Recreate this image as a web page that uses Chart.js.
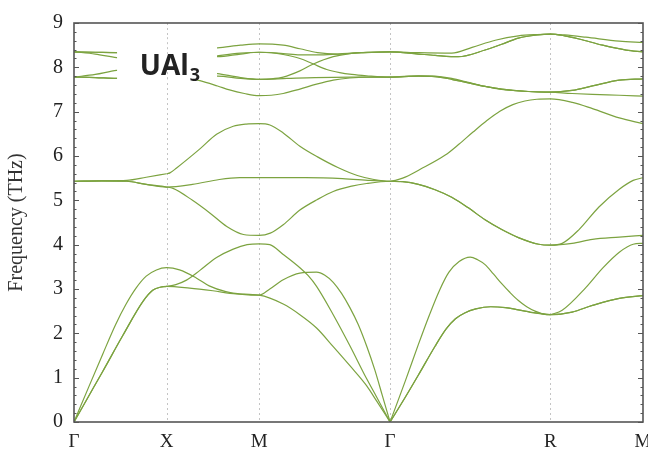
<!doctype html>
<html>
<head>
<meta charset="utf-8">
<title>UAl3 phonon dispersion</title>
<script src="https://cdn.jsdelivr.net/npm/chart.js@4.4.1/dist/chart.umd.min.js"></script>
<style>
  html, body { margin: 0; padding: 0; background: #fff; }
  canvas { display: block; }
</style>
</head>
<body>
<canvas id="bands" width="648" height="455"></canvas>
<script>
// path along the zone: Γ-X-M-Γ-R-M, distances in units of Γ-X
var kTicks = [0, 1, 2, 3.414, 5.146, 6.146];
var kLabels = ['Γ', 'X', 'M', 'Γ', 'R', 'M'];
var freqTicks = [0, 1, 2, 3, 4, 5, 6, 7, 8, 9];

// each band: [k, frequency in THz]
var band01 = [[0,0],[0.155,0.57],[0.31,1.14],[0.527,1.95],[0.745,2.72],[0.85,2.97],[0.93,3.04],[1,3.06],
  [1.25,3.02],[1.5,2.96],[1.75,2.89],[2,2.86],
  [2.26,2.66],[2.44,2.42],[2.62,2.12],[2.8,1.7],[2.98,1.27],[3.16,0.82],[3.27,0.47],[3.414,0],
  [3.57,0.53],[3.72,1.06],[3.9,1.71],[4.02,2.1],[4.12,2.33],[4.22,2.46],[4.34,2.55],[4.5,2.6],[4.66,2.58],[4.8,2.53],[4.98,2.46],[5.146,2.42],
  [5.38,2.48],[5.6,2.63],[5.89,2.79],[6.146,2.85]];
var band02 = [[0,0],[0.155,0.57],[0.31,1.14],[0.527,1.95],[0.745,2.72],[0.85,2.97],[0.93,3.04],[1,3.06],
  [1.1,3.1],[1.215,3.2],[1.36,3.42],[1.54,3.71],[1.72,3.9],[1.87,4.0],[2,4.02],
  [2.115,4.0],[2.26,3.78],[2.44,3.48],[2.53,3.3],[2.62,3.06],[2.8,2.42],[2.98,1.72],[3.16,0.98],[3.27,0.56],[3.414,0],
  [3.57,0.53],[3.72,1.06],[3.9,1.71],[4.02,2.1],[4.12,2.33],[4.22,2.46],[4.34,2.55],[4.5,2.6],[4.66,2.58],[4.8,2.53],[4.98,2.46],[5.146,2.42],
  [5.273,2.52],[5.528,3.03],[5.71,3.47],[5.89,3.83],[6.04,4.01],[6.146,4.03]];
var band03 = [[0,0],[0.155,0.77],[0.31,1.53],[0.45,2.2],[0.56,2.65],[0.67,3.02],[0.78,3.29],[0.89,3.43],[1,3.48],
  [1.14,3.43],[1.32,3.25],[1.46,3.07],[1.64,2.94],[1.82,2.88],[2,2.86],
  [2.115,3.0],[2.26,3.21],[2.44,3.36],[2.62,3.38],[2.71,3.31],[2.8,3.15],[2.89,2.9],[2.98,2.58],[3.07,2.2],[3.16,1.72],[3.25,1.17],[3.33,0.6],[3.414,0],
  [3.576,0.91],[3.72,1.75],[3.84,2.42],[3.95,2.98],[4.05,3.38],[4.16,3.62],[4.28,3.72],[4.36,3.66],[4.44,3.55],[4.53,3.34],[4.62,3.12],[4.71,2.92],[4.8,2.74],[4.89,2.6],[4.98,2.5],[5.06,2.44],[5.146,2.42],
  [5.38,2.48],[5.6,2.63],[5.89,2.79],[6.146,2.85]];
var band04 = [[0,5.43],[0.3,5.44],[0.57,5.45],[0.78,5.52],[1,5.6],
  [1.036,5.62],[1.108,5.73],[1.36,6.16],[1.54,6.49],[1.72,6.67],[1.86,6.72],[2,6.73],
  [2.116,6.7],[2.26,6.52],[2.44,6.22],[2.63,5.98],[2.85,5.74],[3.06,5.56],[3.24,5.47],[3.414,5.43],
  [3.55,5.5],[3.74,5.7],[4.01,6.02],[4.16,6.27],[4.31,6.54],[4.46,6.8],[4.6,7.01],[4.74,7.16],[4.87,7.24],[5.0,7.28],[5.146,7.29],
  [5.383,7.21],[5.6,7.07],[5.89,6.86],[6.146,6.73]];
var band05 = [[0,5.43],[0.3,5.44],[0.57,5.43],[0.78,5.36],[1,5.3],
  [1.28,5.36],[1.57,5.47],[1.79,5.51],[2,5.51],
  [2.5,5.51],[2.9,5.49],[3.2,5.45],[3.414,5.43],
  [3.55,5.42],[3.72,5.36],[3.9,5.24],[4.08,5.07],[4.26,4.83],[4.44,4.56],[4.62,4.34],[4.8,4.16],[5.02,4.01],[5.146,3.99],
  [5.273,4.03],[5.455,4.34],[5.67,4.85],[5.89,5.25],[6.04,5.45],[6.146,5.51]];
var band06 = [[0,5.43],[0.3,5.44],[0.57,5.43],[0.78,5.36],[1,5.3],
  [1.07,5.27],[1.28,5.0],[1.47,4.71],[1.65,4.41],[1.83,4.23],[2,4.21],
  [2.12,4.26],[2.26,4.45],[2.44,4.78],[2.63,5.02],[2.8,5.2],[3.0,5.32],[3.16,5.38],[3.414,5.43],
  [3.55,5.42],[3.72,5.36],[3.9,5.24],[4.08,5.07],[4.26,4.83],[4.44,4.56],[4.62,4.34],[4.8,4.16],[5.02,4.01],[5.146,3.99],
  [5.38,4.03],[5.6,4.12],[5.89,4.17],[6.146,4.21]];
var band07 = [[0,8.35],[0.23,8.34],[0.46,8.33],[1,8.4],
  [1.55,8.44],[1.8,8.5],[2,8.53],
  [2.26,8.5],[2.44,8.42],[2.63,8.33],[2.85,8.3],[3.1,8.33],[3.414,8.35],
  [3.72,8.33],[4.08,8.32],[4.3,8.45],[4.55,8.61],[4.8,8.71],[5.0,8.74],[5.146,8.75],
  [5.3,8.73],[5.528,8.68],[5.89,8.59],[6.146,8.56]];
var band08 = [[0,8.35],[0.23,8.34],[0.46,8.33],[1,8.3],
  [1.55,8.24],[1.8,8.3],[2,8.34],
  [2.26,8.31],[2.44,8.28],[2.63,8.28],[2.85,8.3],[3.1,8.33],[3.414,8.35],
  [3.72,8.3],[3.9,8.27],[4.15,8.24],[4.44,8.39],[4.62,8.52],[4.8,8.66],[5.0,8.73],[5.146,8.75],
  [5.3,8.71],[5.455,8.64],[5.71,8.5],[5.964,8.39],[6.146,8.35]];
var band09 = [[0,8.35],[0.23,8.3],[0.46,8.22],[1,8.1],
  [1.55,8.26],[1.8,8.32],[2,8.34],
  [2.13,8.33],[2.26,8.29],[2.44,8.2],[2.58,8.08],[2.73,7.95],[2.87,7.88],[3.0,7.84],[3.16,7.81],[3.414,7.78],
  [3.72,7.8],[3.9,7.79],[4.08,7.73],[4.26,7.65],[4.44,7.57],[4.62,7.51],[4.87,7.46],[5.146,7.44],
  [5.38,7.48],[5.6,7.58],[5.89,7.71],[6.146,7.74]];
var band10 = [[0,7.78],[0.23,7.84],[0.46,7.93],[1,8.0],
  [1.55,7.86],[1.8,7.77],[2,7.73],
  [2.13,7.74],[2.26,7.78],[2.44,7.92],[2.58,8.07],[2.8,8.24],[2.98,8.31],[3.2,8.34],[3.414,8.35],
  [3.72,8.3],[3.9,8.27],[4.15,8.24],[4.44,8.39],[4.62,8.52],[4.8,8.66],[5.0,8.73],[5.146,8.75],
  [5.3,8.71],[5.455,8.64],[5.71,8.5],[5.964,8.39],[6.146,8.35]];
var band11 = [[0,7.78],[0.23,7.77],[0.46,7.75],[1,7.8],
  [1.55,7.8],[1.8,7.75],[2,7.73],
  [2.3,7.75],[2.6,7.77],[3.0,7.78],[3.414,7.78],
  [3.72,7.81],[3.9,7.8],[4.08,7.75],[4.26,7.66],[4.44,7.57],[4.62,7.5],[4.87,7.46],[5.146,7.44],
  [5.38,7.48],[5.6,7.58],[5.89,7.71],[6.146,7.74]];
var band12 = [[0,7.78],[0.23,7.77],[0.46,7.75],[1,7.85],
  [1.36,7.7],[1.55,7.58],[1.68,7.49],[1.84,7.41],[2,7.36],
  [2.13,7.37],[2.26,7.41],[2.44,7.51],[2.62,7.62],[2.8,7.71],[2.98,7.76],[3.16,7.78],[3.414,7.78],
  [3.72,7.8],[3.9,7.79],[4.08,7.73],[4.26,7.65],[4.44,7.57],[4.62,7.51],[4.87,7.46],[5.146,7.44],
  [5.38,7.41],[5.6,7.39],[5.89,7.37],[6.146,7.35]];

var bands = [band01, band02, band03, band04, band05, band06,
             band07, band08, band09, band10, band11, band12];
// zone points where a band has a sharp corner (curve is split there)
var corners = [[3.414], [3.414, 5.146], [3.414], [1], [], [], [], [], [], [], [], []];

var lineColor = 'rgb(124,163,64)';
var serif = "'Liberation Serif', 'DejaVu Serif', serif";

var datasets = [];
bands.forEach(function(band, b) {
  var cuts = [kTicks[0]].concat(corners[b], [kTicks[kTicks.length - 1]]);
  for (var s = 0; s < cuts.length - 1; s++) {
    var pts = band.filter(function(p) {
      return p[0] >= cuts[s] - 1e-6 && p[0] <= cuts[s + 1] + 1e-6;
    }).map(function(p) { return {x: p[0], y: p[1]}; });
    datasets.push({
      data: pts,
      borderColor: lineColor,
      borderWidth: 1.2,
      pointRadius: 0,
      fill: false,
      cubicInterpolationMode: 'monotone'
    });
  }
});

var framePlugin = {
  id: 'frame',
  beforeDatasetsDraw: function(chart) {
    var c = chart.ctx, a = chart.chartArea, xs = chart.scales.x;
    c.save();
    c.strokeStyle = '#c4c4c4';
    c.lineWidth = 1;
    c.setLineDash([2, 3]);
    for (var i = 1; i < kTicks.length - 1; i++) {
      var px = Math.round(xs.getPixelForValue(kTicks[i])) + 0.5;
      c.beginPath(); c.moveTo(px, a.top); c.lineTo(px, a.bottom); c.stroke();
    }
    c.restore();
  },
  afterDatasetsDraw: function(chart) {
    var c = chart.ctx, a = chart.chartArea, xs = chart.scales.x, ys = chart.scales.y;
    c.save();

    // white patch behind the compound label
    var bx0 = xs.getPixelForValue(0.465), bx1 = xs.getPixelForValue(1.545);
    var by0 = ys.getPixelForValue(8.68), by1 = ys.getPixelForValue(7.72);
    c.fillStyle = '#fff';
    c.fillRect(bx0, by0, bx1 - bx0, by1 - by0);
    var gx = Math.round(xs.getPixelForValue(kTicks[1])) + 0.5;
    c.strokeStyle = '#c4c4c4'; c.lineWidth = 1; c.setLineDash([2, 3]);
    c.beginPath(); c.moveTo(gx, by0); c.lineTo(gx, by1); c.stroke();
    c.setLineDash([]);

    var tx = xs.getPixelForValue(0.71), ty = ys.getPixelForValue(7.82);
    c.fillStyle = '#222';
    c.textBaseline = 'alphabetic';
    c.textAlign = 'left';
    c.font = "bold 28px 'Open Sans', sans-serif";
    c.fillText('UAl', tx, ty);
    var w = c.measureText('UAl').width;
    c.font = "bold 18px 'Open Sans', sans-serif";
    c.fillText('3', tx + w + 1, ty + 6);

    // axis box with tick marks on both sides
    c.strokeStyle = '#555';
    c.lineWidth = 1.6;
    c.strokeRect(a.left, a.top, a.right - a.left, a.bottom - a.top);
    c.lineWidth = 1;
    for (var v = 0; v <= 9.001; v += 0.2) {
      var py = Math.round(ys.getPixelForValue(v)) + 0.5;
      var major = Math.abs(v - Math.round(v)) < 1e-6;
      var len = major ? 5 : 2.5;
      c.beginPath();
      c.moveTo(a.left, py); c.lineTo(a.left + len, py);
      c.moveTo(a.right, py); c.lineTo(a.right - len, py);
      c.stroke();
    }
    c.restore();
  }
};

new Chart(document.getElementById('bands'), {
  type: 'line',
  data: { datasets: datasets },
  options: {
    responsive: false,
    animation: false,
    events: [],
    layout: { padding: { top: 10, right: 5, left: 0, bottom: 0 } },
    plugins: { legend: { display: false }, tooltip: { enabled: false } },
    scales: {
      x: {
        type: 'linear',
        min: kTicks[0],
        max: kTicks[kTicks.length - 1],
        afterBuildTicks: function(s) {
          s.ticks = kTicks.map(function(v) { return {value: v}; });
        },
        afterFit: function(s) { s.height = 33; s.paddingLeft = 0; s.paddingRight = 0; },
        ticks: {
          autoSkip: false,
          maxRotation: 0,
          padding: 9,
          color: '#222',
          font: { family: serif, size: 19 },
          callback: function(v, i) { return kLabels[i]; }
        },
        grid: { display: false, drawTicks: false },
        border: { display: false }
      },
      y: {
        min: 0,
        max: 9,
        afterBuildTicks: function(s) {
          s.ticks = freqTicks.map(function(v) { return {value: v}; });
        },
        afterFit: function(s) { s.width = 74; },
        ticks: {
          padding: 11,
          color: '#222',
          font: { family: serif, size: 20 }
        },
        grid: { display: false, drawTicks: false },
        border: { display: false },
        title: {
          display: true,
          text: 'Frequency (THz)',
          color: '#333',
          font: { family: serif, size: 20 },
          padding: { top: 5, bottom: 0 }
        }
      }
    }
  },
  plugins: [framePlugin]
});
</script>
</body>
</html>
